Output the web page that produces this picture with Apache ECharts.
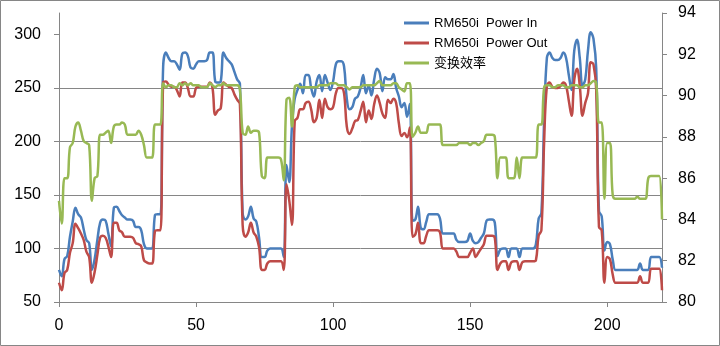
<!DOCTYPE html>
<html><head><meta charset="utf-8">
<script src="https://cdn.jsdelivr.net/npm/echarts@6/dist/echarts.min.js"></script>
<style>html,body{margin:0;padding:0;background:#fff}#c{width:720px;height:346px}</style>
</head><body><div id="c"></div>
<script>
const xTickLabels = [0, 50, 100, 150, 200];
const leftTickLabels = [50, 100, 150, 200, 250, 300];
const rightTickLabels = [80, 82, 84, 86, 88, 90, 92, 94];
const seriesNames = ['RM650i  Power In', 'RM650i  Power Out', '变换效率'];

const powerIn = [
  80,74,90,93,111,125,138,132,129,118,
  108,105,80,90,108,124,127,126,114,102,
  138,139,135,131,129,127,127,126,120,120,
  117,104,100,100,100,131,132,132,270,283,
  278,275,275,272,267,282,283,280,269,268,
  272,275,275,275,276,283,283,256,255,256,
  283,278,275,272,265,258,254,133,127,130,
  139,128,125,110,92,92,98,100,100,100,
  100,100,92,178,162,215,240,248,254,245,
  262,262,250,242,256,262,247,262,255,248,
  256,272,275,275,270,240,230,232,240,242,
  250,262,245,252,243,258,268,264,247,260,
  258,258,263,250,242,232,236,223,235,126,
  127,139,119,118,125,132,132,132,132,128,
  114,114,114,114,114,108,106,106,106,107,
  114,107,105,106,110,114,126,127,127,124,
  93,99,100,100,92,100,100,100,92,100,
  100,100,100,100,104,128,133,220,278,283,
  278,276,276,278,283,278,262,248,285,295,
  278,252,258,285,302,296,268,135,130,98,
  106,104,90,80,80,80,80,80,80,80,
  80,80,86,80,80,80,92,92,92,92,
  82
];
const powerOut = [
  68,61,77,80,96,105,123,119,114,108,
  97,92,68,78,94,110,112,110,102,92,
  124,124,117,115,111,111,111,110,105,104,
  102,89,87,86,86,116,117,117,255,256,
  253,251,251,248,242,255,255,250,242,242,
  250,251,251,251,251,255,250,225,229,231,
  255,253,251,250,244,239,235,122,111,115,
  124,115,111,101,80,80,86,88,88,88,
  88,88,80,160,145,122,219,222,230,230,
  236,237,230,218,222,239,222,240,232,230,
  232,245,250,250,245,214,207,212,219,220,
  228,237,218,229,221,235,243,236,226,222,
  239,236,240,236,217,205,208,204,213,111,
  113,124,105,105,112,117,117,117,117,115,
  100,100,100,100,100,97,92,92,92,92,
  96,100,92,96,100,104,112,112,112,110,
  80,86,88,88,80,87,88,88,80,87,
  88,88,88,88,89,112,117,200,252,255,
  251,250,250,252,255,252,238,224,258,268,
  252,224,236,245,274,272,248,120,117,68,
  92,90,76,68,68,68,68,68,68,68,
  68,68,74,68,68,68,81,81,81,81,
  61
];
const efficiency = [
  84.9,83.8,86.0,86.0,87.5,87.7,88.5,88.7,88.3,87.8,
  87.7,87.6,84.9,86.0,86.1,88.1,88.1,88.2,88.3,87.7,
  88.5,88.6,88.6,88.7,88.6,88.1,88.1,88.1,88.1,88.3,
  88.1,87.6,87.0,87.0,87.0,88.6,88.6,88.6,90.6,90.4,
  90.5,90.5,90.4,90.4,90.6,90.5,90.6,90.5,90.6,90.5,
  90.5,90.5,90.4,90.4,90.4,90.6,90.5,90.4,90.5,90.5,
  90.6,90.5,90.5,90.5,90.5,90.5,90.3,88.2,88.1,88.5,
  88.2,88.3,88.3,88.2,86.1,86.0,87.0,87.0,87.0,87.0,
  87.0,86.9,85.9,89.8,89.9,88.5,90.4,90.5,90.4,90.4,
  90.4,90.4,90.4,90.4,90.4,90.5,90.5,90.5,90.5,90.6,
  90.6,90.6,90.5,90.5,90.5,90.4,90.3,90.4,90.4,90.4,
  90.4,90.5,90.5,90.5,90.5,90.5,90.6,90.7,90.5,90.5,
  90.5,90.5,90.6,90.6,90.4,90.3,90.2,90.6,90.6,88.0,
  88.2,88.5,88.2,88.2,88.2,88.6,88.6,88.6,88.6,88.6,
  87.6,87.6,87.6,87.6,87.6,87.6,87.7,87.7,87.7,87.7,
  87.6,87.7,87.7,87.6,87.7,87.8,88.1,88.1,88.1,88.0,
  86.0,87.0,87.0,87.0,86.0,86.0,86.0,87.0,86.0,87.0,
  87.0,87.0,87.0,87.0,87.0,88.6,88.6,90.4,90.5,90.5,
  90.4,90.4,90.5,90.5,90.5,90.4,90.4,90.5,90.5,90.5,
  90.4,90.4,90.5,90.5,90.6,90.7,90.6,88.7,88.7,85.0,
  87.7,87.7,85.2,85.0,85.0,85.0,85.0,85.0,85.0,85.0,
  85.0,85.1,85.0,85.0,85.0,86.0,86.1,86.1,86.1,86.1,
  84.0
];

const toPairs = a => a.map((v, i) => [i, v]);
const FONT = "'Liberation Sans','Noto Sans CJK SC',sans-serif";
const AXIS_COLOR = '#868686';
const colors = ['#4A7EBB', '#BE4B48', '#98B954'];

const chart = echarts.init(document.getElementById('c'), null, {renderer: 'canvas'});
chart.setOption({
  animation: false,
  backgroundColor: '#fff',
  textStyle: {fontFamily: FONT},
  graphic: [{type: 'rect', silent: true, z: 100,
    shape: {x: 0.5, y: 0.5, width: 719, height: 345},
    style: {fill: 'none', stroke: AXIS_COLOR, lineWidth: 1}}],
  grid: {left: 59, top: 13, width: 603, height: 289, containLabel: false, outerBoundsMode: 'none'},
  legend: {
    orient: 'vertical', left: 404, top: 16, padding: 0,
    icon: 'rect', itemWidth: 25, itemHeight: 3, itemGap: 6,
    data: seriesNames,
    textStyle: {fontSize: 13, lineHeight: 14, color: '#000', fontFamily: FONT}
  },
  xAxis: {
    type: 'value', min: 0, max: 220, interval: 50,
    axisLine: {show: true, onZero: false, lineStyle: {color: AXIS_COLOR}},
    axisTick: {show: true, length: 5, customValues: xTickLabels, lineStyle: {color: AXIS_COLOR}},
    axisLabel: {customValues: xTickLabels, margin: 16, fontSize: 16, color: '#000', fontFamily: FONT},
    splitLine: {show: false}
  },
  yAxis: [{
    type: 'value', min: 50, max: 320, interval: 50, position: 'left',
    axisLine: {show: true, lineStyle: {color: AXIS_COLOR}},
    axisTick: {show: true, length: 5, customValues: leftTickLabels, lineStyle: {color: AXIS_COLOR}},
    axisLabel: {customValues: leftTickLabels, margin: 18, fontSize: 16, color: '#000', fontFamily: FONT},
    splitLine: {show: true, showMaxLine: false, lineStyle: {color: AXIS_COLOR, width: 1}}
  }, {
    type: 'value', min: 80, max: 94, interval: 2, position: 'right',
    axisLine: {show: true, lineStyle: {color: AXIS_COLOR}},
    axisTick: {show: true, length: 5, customValues: rightTickLabels, lineStyle: {color: AXIS_COLOR}},
    axisLabel: {customValues: rightTickLabels, margin: 16, fontSize: 16, color: '#000', fontFamily: FONT},
    splitLine: {show: false}
  }],
  series: [
    {name: seriesNames[0], type: 'line', yAxisIndex: 0, data: toPairs(powerIn), smooth: 0.4,
     symbol: 'none', lineStyle: {width: 2.5, color: colors[0]}, itemStyle: {color: colors[0]}},
    {name: seriesNames[1], type: 'line', yAxisIndex: 0, data: toPairs(powerOut), smooth: 0.4,
     symbol: 'none', lineStyle: {width: 2.5, color: colors[1]}, itemStyle: {color: colors[1]}},
    {name: seriesNames[2], type: 'line', yAxisIndex: 1, data: toPairs(efficiency), smooth: 0.4,
     symbol: 'none', lineStyle: {width: 2.5, color: colors[2]}, itemStyle: {color: colors[2]}}
  ]
});
</script>
</body></html>
